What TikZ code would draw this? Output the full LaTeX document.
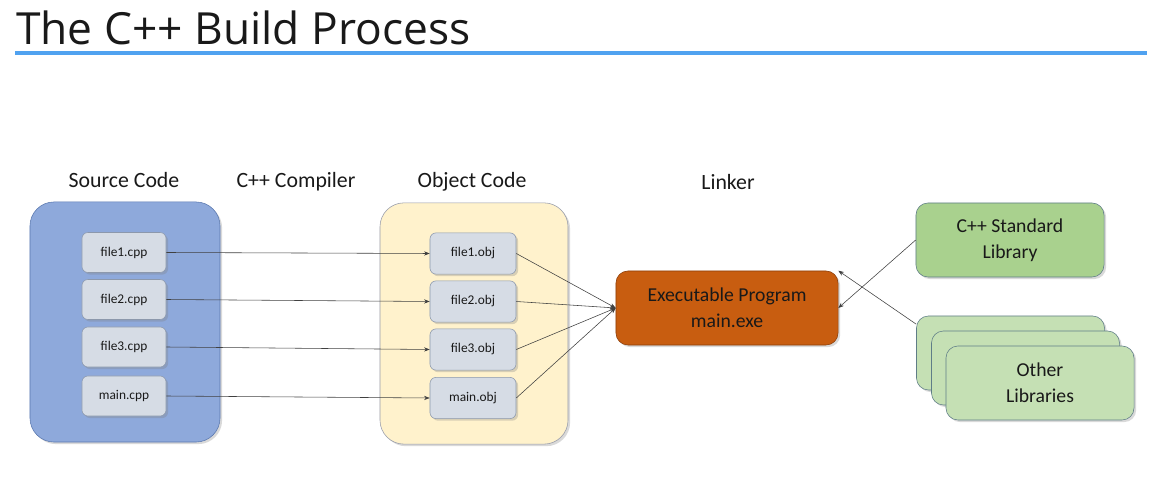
\documentclass[tikz,border=0pt]{standalone}
\usepackage{fontspec}
\setmainfont{Carlito}
\newfontfamily\titlefont{Open Sans}
\usetikzlibrary{arrows.meta,shadows}

\definecolor{srcblue}{RGB}{142,169,219}
\definecolor{srcedge}{RGB}{90,120,175}
\definecolor{objyellow}{RGB}{255,242,204}
\definecolor{objedge}{RGB}{150,155,170}
\definecolor{filegray}{RGB}{214,220,229}
\definecolor{fileedge}{RGB}{140,152,172}
\definecolor{exeorange}{RGB}{200,93,16}
\definecolor{exeedge}{RGB}{140,62,10}
\definecolor{stdgreen}{RGB}{169,209,142}
\definecolor{libgreen}{RGB}{197,224,180}
\definecolor{libedge}{RGB}{95,125,135}
\definecolor{rule}{RGB}{80,162,240}

\begin{document}
\begin{tikzpicture}[x=0.025cm,y=-0.025cm,link/.style={draw=black!75,line width=.4pt,-{Stealth[length=4pt,width=3pt]}}]
    \tikzset{every node/.style={font=\fontsize{14}{18.5}\selectfont,align=center,text=black!90}}
    \tikzset{shade/.style={drop shadow={opacity=.3,shadow xshift=1.5pt,shadow yshift=-1.5pt}}}
    \tikzset{container/.style={rounded corners=.6cm,minimum width=4.75cm,minimum height=6cm,shade}}
    \tikzset{filebox/.style={draw=fileedge,fill=filegray,rounded corners=.15cm,minimum width=2.1cm,minimum height=1cm,font=\fontsize{9.5}{11}\selectfont,shade}}
    \tikzset{libbox/.style={draw=libedge,rounded corners=.3cm,minimum width=4.7cm,minimum height=1.85cm,shade}}
    \useasboundingbox (0,0) rectangle (1166,490);

    % title
    \node[anchor=base west,inner sep=0,font=\titlefont\fontsize{31.5}{36}\selectfont] (title) at (16,45) {The C++ Build Process};
    \draw[rule,line width=2.8pt] (15,53) -- (1147,53);

    % headers
    \node[font=\fontsize{15.5}{18}\selectfont] (hsrc) at (124,180) {Source Code};
    \node[font=\fontsize{15.5}{18}\selectfont] (hcomp) at (296,182) {C++ Compiler};
    \node[font=\fontsize{15.5}{18}\selectfont] (hobj) at (472,182) {Object Code};
    \node[font=\fontsize{15.5}{18}\selectfont] (hlink) at (728,182) {Linker};

    % containers
    \node[container,draw=srcedge,fill=srcblue] (src) at (125,322) {};
    \node[container,draw=objedge,fill=objyellow,minimum width=4.7cm,minimum height=6.03cm] (obj) at (474,323.5) {};

    % source and object files
    \node[filebox] (f1c) at (124,252.5) {file1.cpp};
    \node[filebox] (f2c) at (124,299.5) {file2.cpp};
    \node[filebox] (f3c) at (124,347) {file3.cpp};
    \node[filebox] (mc) at (124,396) {main.cpp};

    \node[filebox,minimum width=2.15cm,minimum height=1.03cm] (f1o) at (473,253.5) {file1.obj};
    \node[filebox,minimum width=2.15cm,minimum height=1.03cm] (f2o) at (473,301.5) {file2.obj};
    \node[filebox,minimum width=2.15cm,minimum height=1.03cm] (f3o) at (473,349.5) {file3.obj};
    \node[filebox,minimum width=2.15cm,minimum height=1.03cm] (mo) at (473,398) {main.obj};

    % executable
    \node[draw=exeedge,fill=exeorange,rounded corners=.3cm,minimum width=5.55cm,minimum height=1.85cm,shade] (exe) at (727,308) {Executable Program\\main.exe};

    % libraries
    \node[libbox,fill=stdgreen] (std) at (1010,240) {C++ Standard\\Library};
    \node[libbox,fill=libgreen] (ol1) at (1010.5,353) {};
    \node[libbox,fill=libgreen] (ol2) at (1025.5,368) {};
    \node[libbox,fill=libgreen] (ol3) at (1040,383) {Other\\Libraries};

    % compile
    \draw[link] (f1c.east) -- (f1o.west);
    \draw[link] (f2c.east) -- (f2o.west);
    \draw[link] (f3c.east) -- (f3o.west);
    \draw[link] (mc.east) -- (mo.west);

    % link
    \draw[link] (f1o.east) -- (exe.west);
    \draw[link] (f2o.east) -- (exe.west);
    \draw[link] (f3o.east) -- (exe.west);
    \draw[link] (mo.east) -- (exe.west);
    \draw[link] (std.west) -- (exe.east);
    \draw[link] (ol1.163) -- (exe.north east);
\end{tikzpicture}
\end{document}
